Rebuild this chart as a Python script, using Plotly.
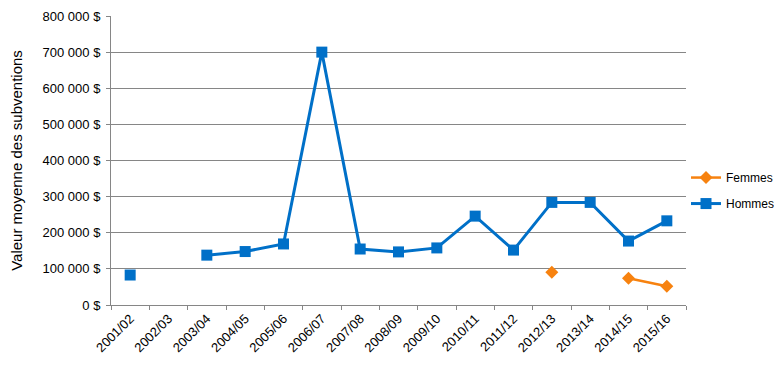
import plotly.graph_objects as go

categories = ["2001/02", "2002/03", "2003/04", "2004/05", "2005/06", "2006/07", "2007/08",
              "2008/09", "2009/10", "2010/11", "2011/12", "2012/13", "2013/14", "2014/15", "2015/16"]
hommes = [83000, None, 138000, 148000, 169000, 700000, 155000, 147000, 158000, 246000,
          152000, 284000, 284000, 177000, 233000]
femmes = [None, None, None, None, None, None, None, None, None, None, None,
          90500, None, 74000, 52000]
y_ticks = [0, 100000, 200000, 300000, 400000, 500000, 600000, 700000, 800000]
y_tick_labels = ["0 $", "100 000 $", "200 000 $", "300 000 $", "400 000 $",
                 "500 000 $", "600 000 $", "700 000 $", "800 000 $"]

FONT = "Liberation Sans"
fig = go.Figure()
fig.add_trace(go.Scatter(
    x=categories, y=femmes, name="Femmes", mode="lines+markers",
    line=dict(color="#F7820F", width=2.5),
    marker=dict(symbol="diamond", size=10, color="#F7820F"),
    legendgroup="f", connectgaps=False))
fig.add_trace(go.Scatter(
    x=categories, y=hommes, name="Hommes", mode="lines+markers",
    line=dict(color="#0070C8", width=3),
    marker=dict(symbol="square", size=11, color="#0070C8"),
    legendgroup="h", connectgaps=False))

# page body has an 8px margin, so the figure is drawn 8px right/down
fig.update_layout(
    width=775, height=376,
    margin=dict(l=103, r=97, t=8, b=79, autoexpand=False),
    paper_bgcolor="white", plot_bgcolor="white",
    font=dict(family=FONT, size=13, color="#000000"),
    legend=dict(x=1.0, y=0.396, xanchor="left", yanchor="middle",
                traceorder="grouped", tracegroupgap=7, borderwidth=0,
                font=dict(family=FONT, size=12)),
    xaxis=dict(
        type="category", categoryorder="array", categoryarray=categories,
        range=[-0.5, len(categories) - 0.5], automargin=False,
        tickangle=-45, showgrid=False, showline=True, linecolor="#868686", linewidth=1,
        ticks="outside", tickson="boundaries", ticklen=4, tickcolor="#868686",
        tickfont=dict(family=FONT, size=13)),
    yaxis=dict(
        range=[0, 800000], tickvals=y_ticks, ticktext=y_tick_labels, automargin=False,
        showgrid=True, gridcolor="#868686", gridwidth=1,
        showline=True, linecolor="#868686", linewidth=1,
        ticks="outside", ticklen=4, tickcolor="#868686", ticklabelstandoff=3,
        zeroline=False,
        tickfont=dict(family=FONT, size=13),
        title=dict(text="Valeur moyenne des subventions", font=dict(family=FONT, size=15),
                   standoff=22)),
)

fig.write_html("out.html")
